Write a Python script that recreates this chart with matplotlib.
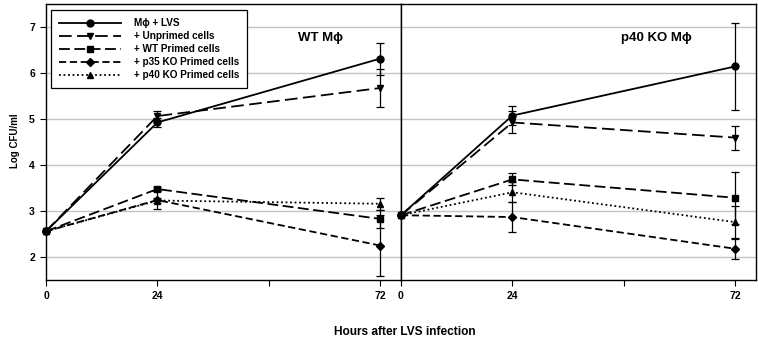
import matplotlib
matplotlib.use("Agg")
import matplotlib.pyplot as plt

plt.rcParams["font.family"] = ["Liberation Sans", "DejaVu Sans"]

hours = [0, 24, 72]
series_names = ["M\u03d5 + LVS", "+ Unprimed cells", "+ WT Primed cells",
                "+ p35 KO Primed cells", "+ p40 KO Primed cells"]

# WT macrophages
wt_lvs = [2.55, 4.92, 6.31]
wt_lvs_err = [0.0, 0.1, 0.35]
wt_unprimed = [2.55, 5.06, 5.67]
wt_unprimed_err = [0.0, 0.1, 0.41]
wt_wtprimed = [2.55, 3.47, 2.82]
wt_wtprimed_err = [0.0, 0.04, 0.2]
wt_p35 = [2.55, 3.23, 2.24]
wt_p35_err = [0.0, 0.2, 0.66]
wt_p40 = [2.55, 3.22, 3.15]
wt_p40_err = [0.0, 0.05, 0.13]

# p40 KO macrophages
ko_lvs = [2.9, 5.07, 6.14]
ko_lvs_err = [0.0, 0.2, 0.95]
ko_unprimed = [2.9, 4.92, 4.59]
ko_unprimed_err = [0.0, 0.24, 0.26]
ko_wtprimed = [2.9, 3.68, 3.28]
ko_wtprimed_err = [0.0, 0.13, 0.57]
ko_p35 = [2.9, 2.86, 2.17]
ko_p35_err = [0.0, 0.33, 0.22]
ko_p40 = [2.9, 3.4, 2.75]
ko_p40_err = [0.0, 0.22, 0.35]

xticks = [0, 24, 48, 72]
xticklabels = ["0", "24", "", "72"]
yticks = [2, 3, 4, 5, 6, 7]

styles = [
    dict(marker="o", linestyle="-", ms=5),
    dict(marker="v", linestyle=(0, (7, 3)), ms=5),
    dict(marker="s", linestyle=(0, (6, 2.5)), ms=4.5),
    dict(marker="D", linestyle=(0, (4, 2)), ms=4),
    dict(marker="^", linestyle=(0, (1, 1.5)), ms=5),
]

W, H = 758, 341
fig = plt.figure(figsize=(W / 100, H / 100), dpi=100)
fig.patch.set_facecolor("white")

bot, top = 279.5, 4
ax1 = fig.add_axes([46 / W, 1 - bot / H, (401 - 46) / W, (bot - top) / H])
ax2 = fig.add_axes([401 / W, 1 - bot / H, (756 - 401) / W, (bot - top) / H])

panels = [
    (ax1, [wt_lvs, wt_unprimed, wt_wtprimed, wt_p35, wt_p40],
     [wt_lvs_err, wt_unprimed_err, wt_wtprimed_err, wt_p35_err, wt_p40_err], "WT M\u03d5", 0.772),
    (ax2, [ko_lvs, ko_unprimed, ko_wtprimed, ko_p35, ko_p40],
     [ko_lvs_err, ko_unprimed_err, ko_wtprimed_err, ko_p35_err, ko_p40_err], "p40 KO M\u03d5", 0.72),
]

handles = []
for ax, ys, errs, title, tx in panels:
    ax.set_xlim(0, 76.5)
    ax.set_ylim(1.5, 7.5)
    ax.set_yticks(yticks)
    ax.yaxis.grid(True, color="#c4c4c4", lw=1)
    ax.set_axisbelow(True)
    ax.set_xticks(xticks)
    ax.set_xticklabels(xticklabels, fontweight="bold", fontsize=7.5)
    ax.tick_params(axis="x", direction="out", length=4, width=0.8, pad=4.5)
    for y, e, name, st in zip(ys, errs, series_names, styles):
        eb = ax.errorbar(hours, y, yerr=e, color="black", lw=1.3, ecolor="black",
                         elinewidth=0.9, capsize=3, capthick=0.9,
                         marker=st["marker"], ms=st["ms"], linestyle=st["linestyle"],
                         label=name, clip_on=False, zorder=3)
        for artist in eb.lines:
            if artist is not None:
                try:
                    for a in artist:
                        a.set_clip_on(False)
                except TypeError:
                    artist.set_clip_on(False)
        if ax is ax1:
            handles.append(eb.lines[0])
    ax.text(tx, 0.877, title, transform=ax.transAxes,
            ha="center", va="center", fontsize=9.5, fontweight="bold")
    for s in ax.spines.values():
        s.set_color("black")
        s.set_linewidth(1)

ax1.set_yticklabels([str(v) for v in yticks], fontweight="bold", fontsize=7.5)
ax1.tick_params(axis="y", direction="out", length=4, width=0.8, pad=4)
ax2.tick_params(axis="y", left=False, labelleft=False)

leg = ax1.legend(handles, series_names, loc="upper left",
                 bbox_to_anchor=(5 / 355, 1 - 6 / 275.5), borderaxespad=0,
                 fancybox=False, edgecolor="black", framealpha=1, handlelength=6.2,
                 prop=dict(weight="bold", size=7.2), labelspacing=0.3,
                 borderpad=0.8, handletextpad=1.3)
leg.get_frame().set_linewidth(0.9)

fig.text(15 / W, 1 - 141 / H, "Log CFU/ml", rotation=90, ha="center", va="center",
         fontsize=7, fontweight="bold")
fig.text(405 / W, 1 - 332 / H, "Hours after LVS infection", ha="center", va="center",
         fontsize=8.6, fontweight="bold")

fig.savefig("out.png", dpi=100)
